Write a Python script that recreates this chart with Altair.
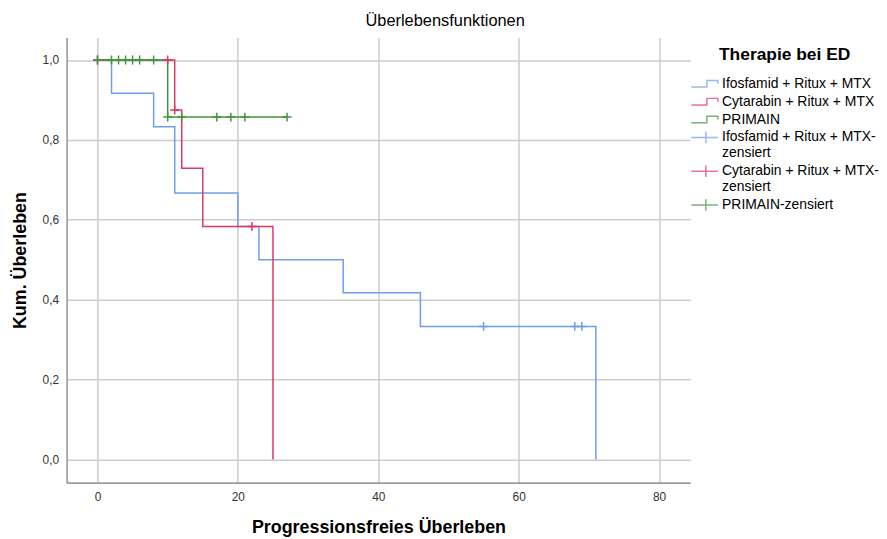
import altair as alt
import pandas as pd

FONT = "Liberation Sans"

series = ["Ifosfamid + Ritux + MTX", "Cytarabin + Ritux + MTX", "PRIMAIN"]
censor_names = ["Ifosfamid + Ritux + MTX-zensiert", "Cytarabin + Ritux + MTX-zensiert", "PRIMAIN-zensiert"]
colors = ["#6D9EEB", "#DA3A62", "#3F963F"]

# Kaplan-Meier step curves (time, cumulative survival)
ifo_t = [0, 2, 8, 11, 20, 23, 35, 46, 71]
ifo_s = [1.0, 0.917, 0.833, 0.667, 0.583, 0.5, 0.417, 0.333, 0.0]
cyt_t = [0, 11, 12, 15, 25]
cyt_s = [1.0, 0.875, 0.729, 0.583, 0.0]
pri_t = [0, 10, 27]
pri_s = [1.0, 0.857, 0.857]

# censored observations
ifo_cens_t = [55, 68, 69]
ifo_cens_s = [0.333, 0.333, 0.333]
cyt_cens_t = [0, 10, 11, 22]
cyt_cens_s = [1.0, 1.0, 0.875, 0.583]
pri_cens_t = [0, 2, 3, 4, 5, 6, 8, 10, 12, 17, 19, 21, 27]
pri_cens_s = [1.0, 1.0, 1.0, 1.0, 1.0, 1.0, 1.0, 0.857, 0.857, 0.857, 0.857, 0.857, 0.857]

x_ticks = [0, 20, 40, 60, 80]
y_ticks = [0.0, 0.2, 0.4, 0.6, 0.8, 1.0]

lines = pd.concat([
    pd.DataFrame({"t": ifo_t, "s": ifo_s, "entry": series[0]}),
    pd.DataFrame({"t": cyt_t, "s": cyt_s, "entry": series[1]}),
    pd.DataFrame({"t": pri_t, "s": pri_s, "entry": series[2]}),
])
cens = pd.concat([
    pd.DataFrame({"t": ifo_cens_t, "s": ifo_cens_s, "entry": censor_names[0]}),
    pd.DataFrame({"t": cyt_cens_t, "s": cyt_cens_s, "entry": censor_names[1]}),
    pd.DataFrame({"t": pri_cens_t, "s": pri_cens_s, "entry": censor_names[2]}),
])
all_entries = series + censor_names
legend_df = pd.DataFrame({"t": [-100] * 6, "s": [-1] * 6, "entry": all_entries})

STEP = "M-1,0.37H0.74V-0.37H1.97V0"
PLUS_LEG = "M-1,0H1.97M0.63,-0.65V0.65"
PLUS = "M-1,0H1M0,-1V1"

color_scale = alt.Scale(domain=all_entries, range=colors + colors)
shape_scale = alt.Scale(domain=all_entries, range=[STEP] * 3 + [PLUS_LEG] * 3)

legend = alt.Legend(
    title="Therapie bei ED", orient="none", legendX=628, legendY=9,
    padding=0, titleFont=FONT, titleFontSize=17.5, titleFontWeight="bold",
    titleColor="#000000", titleAnchor="middle", titlePadding=10,
    labelFont=FONT, labelFontSize=14, labelColor="#000000", labelLimit=300,
    labelOffset=12, symbolSize=324, symbolStrokeWidth=1.5, rowPadding=1,
    labelExpr="split(replace(datum.label, 'MTX-zensiert', 'MTX-|zensiert'), '|')",
)

x_enc = alt.X("t:Q", scale=alt.Scale(domain=[-4.4, 84.45], nice=False, zero=False),
              axis=alt.Axis(values=x_ticks, title="Progressionsfreies Überleben",
                            labelExpr="format(datum.value, 'd')"))
y_enc = alt.Y("s:Q", scale=alt.Scale(domain=[-0.058, 1.056], nice=False, zero=False),
              axis=alt.Axis(values=y_ticks, title="Kum. Überleben",
                            labelExpr="replace(format(datum.value, '.1f'), '.', ',')"))

leg_layer = alt.Chart(legend_df).mark_point(filled=False, clip=True, strokeWidth=1.5).encode(
    x=x_enc, y=y_enc,
    color=alt.Color("entry:N", scale=color_scale, legend=legend),
    shape=alt.Shape("entry:N", scale=shape_scale, legend=legend),
)

line_layer = alt.Chart(lines).mark_line(interpolate="step-after", strokeWidth=1.5).encode(
    x=x_enc, y=y_enc,
    color=alt.Color("entry:N", scale=color_scale, legend=legend),
)

cens_layer = alt.Chart(cens).mark_point(shape=PLUS, filled=False, size=81, strokeWidth=1.5, opacity=1).encode(
    x=x_enc, y=y_enc,
    color=alt.Color("entry:N", scale=color_scale, legend=legend),
)

chart = alt.layer(leg_layer, line_layer, cens_layer).properties(
    width=628, height=448,
    padding={"left": 3, "top": 3, "right": 0, "bottom": 0},
    title=alt.TitleParams("Überlebensfunktionen", font=FONT, fontSize=16.5, fontWeight="normal",
                          color="#000000", anchor="middle", frame="bounds", offset=8),
).configure_view(stroke=None).configure_axis(
    grid=True, gridColor="#cccccc", gridWidth=1.5, ticks=False,
    domainColor="#777777", domainWidth=1.2,
    labelFont=FONT, labelFontSize=12, labelColor="#333333",
    titleFont=FONT, titleFontSize=18, titleFontWeight="bold", titleColor="#000000",
).configure_axisX(labelPadding=9, titlePadding=16).configure_axisY(labelPadding=8, titlePadding=13)

chart.save("out.html", embed_options={"renderer": "svg", "actions": False})
